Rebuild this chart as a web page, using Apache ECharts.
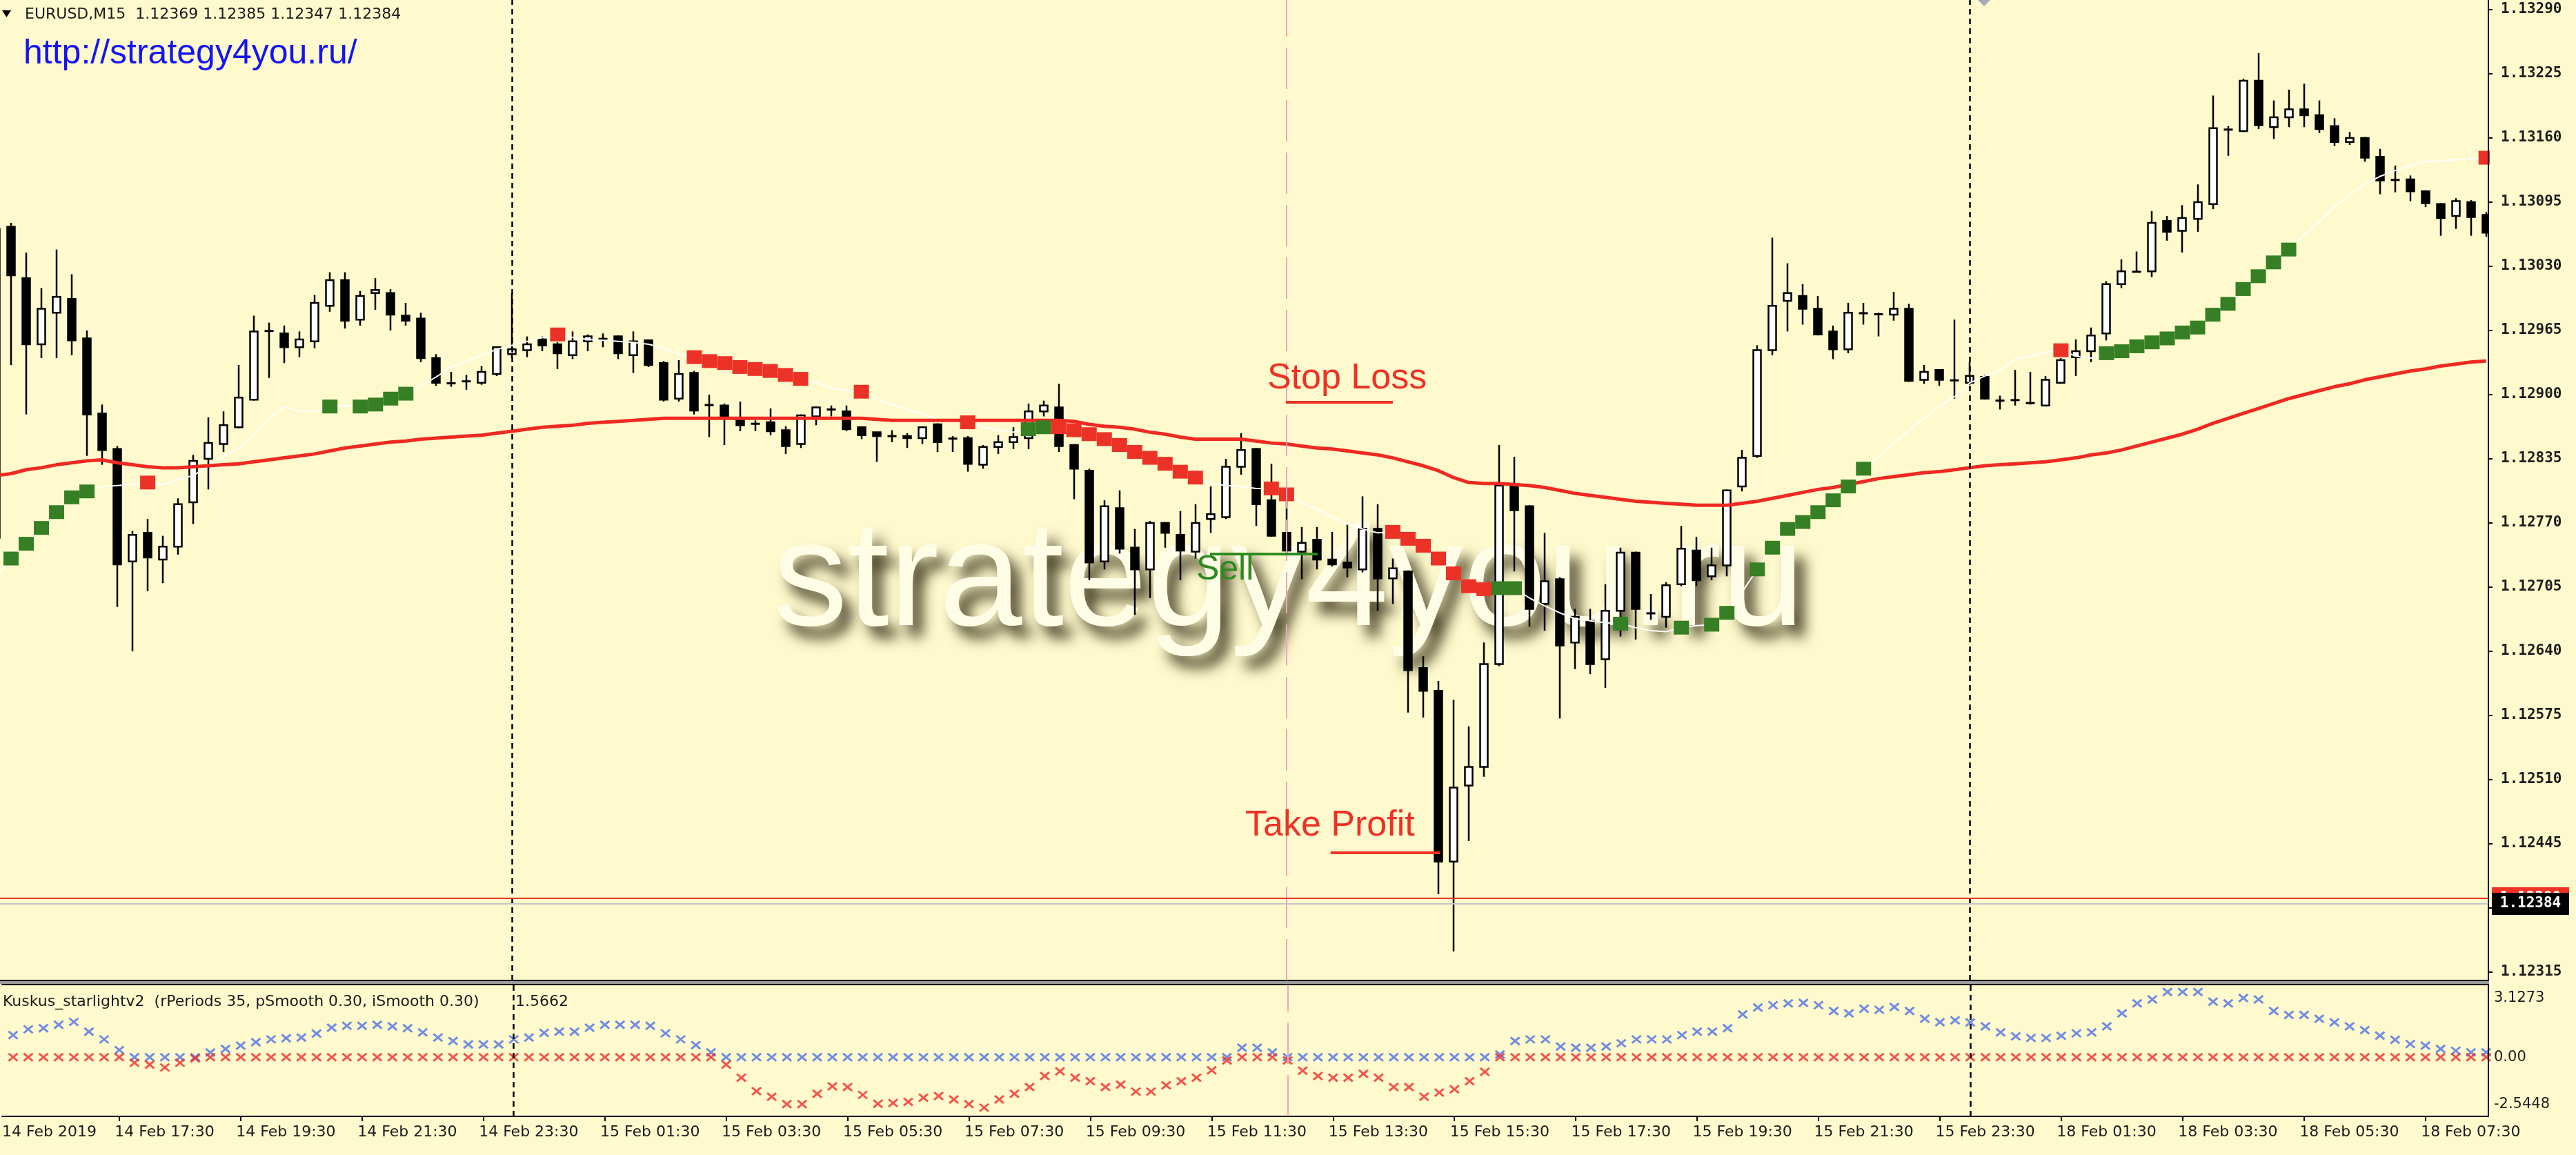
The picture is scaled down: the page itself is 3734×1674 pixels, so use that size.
<!DOCTYPE html>
<html><head><meta charset="utf-8">
<script src="https://cdn.jsdelivr.net/npm/echarts@6.0.0/dist/echarts.min.js"></script>
<style>html,body{margin:0;padding:0;background:#fffacd;}#c{width:3734px;height:1674px;}</style>
</head><body><div id="c"></div><script>
// ---------- DATA (EURUSD M15, bars indexed from 14 Feb 15:30) ----------
const opens = [
1.12755,1.13070,1.13018,1.12951,1.12983,1.12997,1.12957,1.12881,1.12845,1.12731,
1.12760,1.12733,1.12746,1.12791,1.12835,1.12850,1.12867,1.12895,1.12964,1.12962,
1.12948,1.12954,1.12990,1.13016,1.12976,1.13003,1.13003,1.12980,1.12977,1.12937,
1.12912,1.12913,1.12912,1.12921,1.12941,1.12945,1.12956,1.12951,1.12940,1.12954,
1.12956,1.12959,1.12940,1.12955,1.12932,1.12896,1.12922,1.12889,1.12889,1.12874,
1.12871,1.12872,1.12864,1.12850,1.12878,1.12885,1.12883,1.12867,1.12862,1.12858,
1.12858,1.12856,1.12870,1.12856,1.12856,1.12829,1.12847,1.12852,1.12856,1.12883,
1.12887,1.12849,1.12823,1.12731,1.12785,1.12745,1.12723,1.12770,1.12758,1.12741,
1.12774,1.12776,1.12827,1.12845,1.12793,1.12760,1.12741,1.12753,1.12733,1.12730,
1.12723,1.12764,1.12714,1.12721,1.12623,1.12600,1.12427,1.12504,1.12523,1.12627,
1.12808,1.12787,1.12688,1.12713,1.12649,1.12671,1.12632,1.12681,1.12740,1.12679,
1.12675,1.12708,1.12742,1.12716,1.12727,1.12807,1.12838,1.12945,1.12995,1.13000,
1.12987,1.12964,1.12946,1.12982,1.12982,1.12981,1.12987,1.12915,1.12925,1.12915,
1.12912,1.12918,1.12894,1.12894,1.12892,1.12889,1.12912,1.12938,1.12944,1.12962,
1.13012,1.13024,1.13025,1.13076,1.13066,1.13078,1.13093,1.13168,1.13167,1.13218,
1.13171,1.13181,1.13189,1.13183,1.13172,1.13156,1.13160,1.13141,1.13117,1.13118,
1.13106,1.13093,1.13081,1.13095,1.13082];
const highs = [
1.13072,1.13074,1.13044,1.13008,1.13047,1.13022,1.12965,1.12890,1.12848,1.12762,
1.12774,1.12757,1.12795,1.12839,1.12877,1.12883,1.12930,1.12980,1.12973,1.12970,
1.12964,1.13001,1.13024,1.13024,1.13005,1.13018,1.13007,1.12993,1.12983,1.12941,
1.12923,1.12920,1.12929,1.12949,1.13003,1.12959,1.12959,1.12953,1.12964,1.12961,
1.12962,1.12960,1.12964,1.12956,1.12934,1.12935,1.12924,1.12900,1.12891,1.12893,
1.12874,1.12886,1.12868,1.12880,1.12888,1.12889,1.12889,1.12868,1.12862,1.12864,
1.12861,1.12868,1.12871,1.12858,1.12858,1.12849,1.12859,1.12867,1.12891,1.12894,
1.12911,1.12850,1.12825,1.12793,1.12803,1.12764,1.12772,1.12771,1.12782,1.12789,
1.12807,1.12835,1.12861,1.12846,1.12830,1.12806,1.12766,1.12766,1.12761,1.12769,
1.12797,1.12789,1.12734,1.12722,1.12635,1.12610,1.12591,1.12564,1.12649,1.12849,
1.12837,1.12788,1.12760,1.12715,1.12683,1.12683,1.12708,1.12745,1.12741,1.12698,
1.12710,1.12767,1.12756,1.12745,1.12804,1.12844,1.12950,1.13059,1.13033,1.13012,
1.13000,1.12970,1.12993,1.12993,1.12983,1.13004,1.12992,1.12930,1.12925,1.12976,
1.12933,1.12920,1.12899,1.12925,1.12923,1.12919,1.12937,1.12956,1.12968,1.13015,
1.13037,1.13045,1.13086,1.13081,1.13092,1.13113,1.13203,1.13172,1.13220,1.13246,
1.13198,1.13209,1.13215,1.13198,1.13180,1.13166,1.13161,1.13149,1.13132,1.13122,
1.13107,1.13094,1.13099,1.13097,1.13085];
const lows = [
1.12750,1.12930,1.12880,1.12937,1.12937,1.12940,1.12838,1.12829,1.12685,1.12640,
1.12701,1.12709,1.12738,1.12769,1.12804,1.12842,1.12866,1.12894,1.12917,1.12932,
1.12938,1.12947,1.12984,1.12967,1.12970,1.12986,1.12965,1.12970,1.12933,1.12909,
1.12908,1.12905,1.12910,1.12919,1.12937,1.12938,1.12944,1.12926,1.12936,1.12944,
1.12948,1.12936,1.12922,1.12928,1.12893,1.12893,1.12880,1.12857,1.12849,1.12863,
1.12863,1.12859,1.12840,1.12846,1.12869,1.12878,1.12863,1.12855,1.12832,1.12852,
1.12846,1.12850,1.12842,1.12842,1.12822,1.12825,1.12840,1.12845,1.12845,1.12878,
1.12842,1.12794,1.12712,1.12723,1.12739,1.12677,1.12694,1.12745,1.12712,1.12734,
1.12760,1.12774,1.12819,1.12767,1.12756,1.12740,1.12713,1.12723,1.12726,1.12715,
1.12720,1.12681,1.12688,1.12578,1.12573,1.12394,1.12336,1.12448,1.12513,1.12625,
1.12721,1.12665,1.12661,1.12572,1.12622,1.12617,1.12603,1.12655,1.12652,1.12672,
1.12664,1.12706,1.12706,1.12712,1.12716,1.12802,1.12836,1.12940,1.12964,1.12971,
1.12960,1.12936,1.12942,1.12971,1.12959,1.12975,1.12913,1.12911,1.12909,1.12896,
1.12910,1.12895,1.12885,1.12889,1.12890,1.12888,1.12911,1.12919,1.12933,1.12955,
1.13008,1.13024,1.13019,1.13056,1.13044,1.13065,1.13088,1.13142,1.13166,1.13169,
1.13159,1.13171,1.13171,1.13165,1.13152,1.13153,1.13136,1.13103,1.13105,1.13096,
1.13090,1.13061,1.13068,1.13061,1.13060];
const closes = [
1.13068,1.13021,1.12951,1.12987,1.12999,1.12955,1.12880,1.12844,1.12728,1.12758,
1.12735,1.12746,1.12789,1.12833,1.12851,1.12869,1.12897,1.12964,1.12965,1.12948,
1.12956,1.12993,1.13016,1.12975,1.13000,1.13006,1.12981,1.12975,1.12937,1.12912,
1.12911,1.12914,1.12923,1.12948,1.12946,1.12951,1.12950,1.12942,1.12954,1.12959,
1.12957,1.12942,1.12954,1.12930,1.12895,1.12921,1.12884,1.12890,1.12878,1.12869,
1.12870,1.12863,1.12848,1.12879,1.12887,1.12885,1.12865,1.12859,1.12858,1.12858,
1.12856,1.12867,1.12852,1.12855,1.12830,1.12847,1.12852,1.12857,1.12883,1.12889,
1.12848,1.12825,1.12730,1.12787,1.12744,1.12723,1.12770,1.12760,1.12742,1.12770,
1.12779,1.12827,1.12844,1.12789,1.12757,1.12742,1.12750,1.12733,1.12728,1.12725,
1.12764,1.12714,1.12724,1.12621,1.12600,1.12427,1.12502,1.12523,1.12627,1.12808,
1.12783,1.12683,1.12711,1.12646,1.12675,1.12627,1.12681,1.12740,1.12683,1.12678,
1.12707,1.12744,1.12712,1.12727,1.12803,1.12836,1.12945,1.12990,1.13003,1.12987,
1.12961,1.12946,1.12983,1.12983,1.12981,1.12987,1.12914,1.12923,1.12915,1.12914,
1.12919,1.12896,1.12894,1.12895,1.12891,1.12915,1.12935,1.12944,1.12960,1.13012,
1.13025,1.13025,1.13074,1.13065,1.13079,1.13095,1.13170,1.13169,1.13218,1.13173,
1.13181,1.13189,1.13183,1.13169,1.13156,1.13160,1.13140,1.13117,1.13118,1.13106,
1.13094,1.13079,1.13096,1.13080,1.13064];
const maLine = [
1.12818,1.12820,1.12824,1.12826,1.12829,1.12831,1.12833,1.12834,1.12831,1.12829,
1.12827,1.12826,1.12826,1.12827,1.12828,1.12829,1.12830,1.12832,1.12834,1.12836,
1.12838,1.12840,1.12843,1.12846,1.12848,1.12850,1.12852,1.12853,1.12855,1.12856,
1.12857,1.12858,1.12859,1.12861,1.12863,1.12865,1.12867,1.12868,1.12869,1.12871,
1.12872,1.12873,1.12874,1.12875,1.12876,1.12876,1.12876,1.12876,1.12876,1.12876,
1.12876,1.12876,1.12876,1.12876,1.12876,1.12876,1.12876,1.12876,1.12875,1.12874,
1.12874,1.12874,1.12874,1.12874,1.12874,1.12874,1.12874,1.12874,1.12874,1.12874,
1.12874,1.12873,1.12870,1.12868,1.12867,1.12865,1.12862,1.12860,1.12857,1.12855,
1.12855,1.12855,1.12855,1.12853,1.12851,1.12850,1.12848,1.12846,1.12845,1.12843,
1.12841,1.12839,1.12836,1.12832,1.12828,1.12823,1.12816,1.12811,1.12810,1.12810,
1.12809,1.12808,1.12806,1.12803,1.12800,1.12798,1.12796,1.12794,1.12792,1.12791,
1.12790,1.12789,1.12788,1.12788,1.12788,1.12790,1.12792,1.12795,1.12798,1.12801,
1.12804,1.12806,1.12809,1.12812,1.12815,1.12817,1.12819,1.12821,1.12822,1.12824,
1.12826,1.12828,1.12829,1.12830,1.12831,1.12832,1.12834,1.12836,1.12839,1.12841,
1.12844,1.12848,1.12852,1.12856,1.12860,1.12865,1.12871,1.12876,1.12881,1.12886,
1.12891,1.12896,1.12900,1.12904,1.12908,1.12911,1.12915,1.12918,1.12921,1.12924,
1.12926,1.12929,1.12931,1.12933,1.12934];
const sigLine = [
1.12714,1.12734,1.12749,1.12765,1.12781,1.12796,1.12802,1.12807,1.12808,1.12809,
1.12811,1.12809,1.12814,1.12818,1.12828,1.12837,1.12846,1.12859,1.12875,1.12888,
1.12883,1.12883,1.12888,1.12889,1.12888,1.12890,1.12896,1.12901,1.12909,1.12918,
1.12928,1.12934,1.12940,1.12946,1.12950,1.12954,1.12958,1.12961,1.12958,1.12956,
1.12955,1.12954,1.12953,1.12951,1.12947,1.12941,1.12938,1.12934,1.12932,1.12928,
1.12926,1.12924,1.12920,1.12916,1.12912,1.12907,1.12904,1.12903,1.12895,1.12890,
1.12885,1.12881,1.12875,1.12874,1.12872,1.12867,1.12864,1.12862,1.12865,1.12867,
1.12867,1.12864,1.12860,1.12855,1.12849,1.12842,1.12836,1.12830,1.12822,1.12816,
1.12810,1.12808,1.12807,1.12805,1.12805,1.12799,1.12791,1.12784,1.12776,1.12769,
1.12764,1.12760,1.12761,1.12754,1.12747,1.12734,1.12719,1.12706,1.12703,1.12704,
1.12704,1.12694,1.12686,1.12679,1.12673,1.12671,1.12669,1.12668,1.12664,1.12661,
1.12660,1.12664,1.12666,1.12667,1.12679,1.12700,1.12723,1.12745,1.12764,1.12771,
1.12781,1.12793,1.12807,1.12825,1.12837,1.12851,1.12864,1.12876,1.12888,1.12898,
1.12912,1.12919,1.12925,1.12936,1.12939,1.12943,1.12945,1.12939,1.12937,1.12942,
1.12944,1.12949,1.12953,1.12957,1.12963,1.12968,1.12981,1.12992,1.13007,1.13020,
1.13034,1.13047,1.13062,1.13075,1.13090,1.13102,1.13113,1.13121,1.13127,1.13132,
1.13136,1.13137,1.13138,1.13139,1.13140];
const sigUpIdx = [0,1,2,3,4,5,6,22,24,25,26,27,68,69,99,100,107,111,113,114,116,117,118,119,120,121,122,123,
  139,140,141,142,143,144,145,146,147,148,149,150,151];
const sigDnIdx = [10,37,46,47,48,49,50,51,52,53,57,64,70,71,72,73,74,75,76,77,78,79,84,85,92,93,94,95,96,97,98,136,164];
const kusBlue = [
0.75,0.95,1.20,1.25,1.40,1.52,1.10,0.77,0.31,0,
0,0,0,0,0.20,0.36,0.50,0.65,0.77,0.82,
0.85,1.02,1.27,1.35,1.35,1.40,1.33,1.25,1.07,0.85,
0.70,0.55,0.55,0.55,0.77,0.85,1.05,1.10,1.10,1.27,
1.40,1.40,1.40,1.35,1.03,0.77,0.52,0.21,0,0,
0,0,0,0,0,0,0,0,0,0,
0,0,0,0,0,0,0,0,0,0,
0,0,0,0,0,0,0,0,0,0,
0,0,0.41,0.41,0.21,0,0,0,0,0,
0,0,0,0,0,0,0,0,0,0.12,
0.70,0.77,0.77,0.46,0.41,0.41,0.46,0.60,0.77,0.77,
0.77,0.95,1.10,1.10,1.25,1.84,2.14,2.24,2.32,2.34,
2.24,1.99,1.89,2.09,2.04,2.16,1.99,1.66,1.51,1.59,
1.50,1.33,1.07,0.90,0.83,0.83,0.92,1.03,1.07,1.33,
1.89,2.32,2.49,2.81,2.81,2.81,2.39,2.32,2.55,2.49,
1.99,1.82,1.82,1.66,1.50,1.33,1.17,0.93,0.75,0.57,
0.50,0.36,0.28,0.21,0.21];
const kusRed = [
0,0,0,0,0,0,0,0,0,-0.24,
-0.32,-0.44,-0.24,-0.05,0,0,0,0,0,0,
0,0,0,0,0,0,0,0,0,0,
0,0,0,0,0,0,0,0,0,0,
0,0,0,0,0,0,0,0,-0.32,-0.88,
-1.46,-1.70,-2.02,-2.02,-1.57,-1.25,-1.28,-1.62,-2.00,-1.97,
-1.92,-1.74,-1.67,-1.82,-2.02,-2.17,-1.82,-1.57,-1.28,-0.81,
-0.61,-0.88,-1.03,-1.28,-1.18,-1.48,-1.48,-1.21,-1.03,-0.88,
-0.56,-0.14,0,0,0,-0.14,-0.58,-0.81,-0.88,-0.88,
-0.71,-0.88,-1.28,-1.28,-1.70,-1.52,-1.38,-1.03,-0.63,0,
0,0,0,0,0,0,0,0,0,0,
0,0,0,0,0,0,0,0,0,0,
0,0,0,0,0,0,0,0,0,0,
0,0,0,0,0,0,0,0,0,0,
0,0,0,0,0,0,0,0,0,0,
0,0,0,0,0,0,0,0,0,0,
0,0,0,0,0];
const priceTicks = [1.12315,1.12380,1.12445,1.12510,1.12575,1.12640,1.12705,1.12770,1.12835,1.12900,1.12965,1.13030,1.13095,1.13160,1.13225,1.13290];
const indTicks = [-2.5448, 0, 3.1273];
const indTickText = ['-2.5448', '0.00', '3.1273'];
const timeTickIdx = [0,8,16,24,32,40,48,56,64,72,80,88,96,104,112,120,128,136,144,152,160];
const timeTickText = ['14 Feb 2019','14 Feb 17:30','14 Feb 19:30','14 Feb 21:30','14 Feb 23:30','15 Feb 01:30','15 Feb 03:30',
  '15 Feb 05:30','15 Feb 07:30','15 Feb 09:30','15 Feb 11:30','15 Feb 13:30','15 Feb 15:30','15 Feb 17:30','15 Feb 19:30',
  '15 Feb 21:30','15 Feb 23:30','18 Feb 01:30','18 Feb 03:30','18 Feb 05:30','18 Feb 07:30'];
const daySepIdx = [34, 130];
const markerIdx = 85;
const slLine = [[84.96, 1.128923], [92.0, 1.128923]];
const tpLine = [[87.9, 1.124359], [95.1, 1.124359]];
const sellLine = [[79.96, 1.127386], [87.05, 1.127386]];
const chartTexts = ['Stop Loss', 'Take Profit', 'Sell'];
const chartTextPos = [[83.73, 1.129161], [82.28, 1.124632], [79.05, 1.127225]];
const chartTextColors = ['#ee3126', '#ee3126', '#2f8a1f'];
const chartTextSizes = [52, 52, 50];
const priceLevels = [1.12390, 1.12384];          // red order line, bid line
const priceLevelLine = ['#ef3324', '#c4c4c4'];
const priceLevelBox = ['#ef3324', '#000000'];
const headerText = 'EURUSD,M15  1.12369 1.12385 1.12347 1.12384';
const indTitle = 'Kuskus_starlightv2  (rPeriods 35, pSmooth 0.30, iSmooth 0.30)';
const indValue = '1.5662';

// ---------- CHART ----------
const BG = '#fffacd';
const MAIN_MAX = 1.1329978, MAIN_MIN = 1.1230664;
const X_MIN = 0.2726, X_MAX = 164.15;   // first bar sits just left of the window edge
const LABEL_SHIFT = 0.3;                // MT4 time labels start a few pixels left of their tick
const timeLabelPos = timeTickIdx.map((t, k) => k === 0 ? X_MIN : t - LABEL_SHIFT);
const chart = echarts.init(document.getElementById('c'), null, {renderer: 'canvas'});

const candleData = opens.map((o, i) => [i, o, closes[i], lows[i], highs[i]]);
const vLines = () => daySepIdx.map(v => ({xAxis: v, lineStyle: {color: '#000', type: [8, 6], width: 2.5}}))
  .concat([{xAxis: markerIdx, lineStyle: {color: '#f2a3bb', type: [60, 16], width: 2}}]);
const xMark = 'path://M0,0L10,10M10,0L0,10';
const TXT = {textAlign: 'left', textVerticalAlign: 'middle', align: 'left', verticalAlign: 'middle'};

const option = {
  backgroundColor: BG,
  animation: false,
  grid: [
    {left: 0, right: 127, top: 0, height: 1421},
    {left: 0, right: 127, top: 1427, height: 191}
  ],
  xAxis: [
    {type: 'value', gridIndex: 0, min: X_MIN, max: X_MAX, splitLine: {show: false},
     axisLine: {show: true, onZero: false, lineStyle: {color: '#000', width: 2}},
     axisTick: {show: false}, axisLabel: {show: false}},
    {type: 'value', gridIndex: 1, min: X_MIN, max: X_MAX, splitLine: {show: false},
     axisLine: {show: true, onZero: false, lineStyle: {color: '#000', width: 2}},
     axisTick: {show: true, customValues: timeTickIdx.slice(1), length: 7, lineStyle: {color: '#000', width: 2}},
     axisLabel: {show: true, customValues: timeLabelPos, align: 'left', margin: 12,
       formatter: v => timeTickText[timeLabelPos.findIndex(p => Math.abs(p - v) < 1e-6)] || '',
       fontFamily: 'DejaVu Sans', fontSize: 22, color: '#1a1a1a'}},
    {type: 'value', gridIndex: 1, position: 'top', min: X_MIN, max: X_MAX, splitLine: {show: false},
     axisLine: {show: true, onZero: false, lineStyle: {color: '#000', width: 2}},
     axisTick: {show: false}, axisLabel: {show: false}}
  ],
  yAxis: [
    {type: 'value', gridIndex: 0, position: 'right', min: MAIN_MIN, max: MAIN_MAX, scale: true, z: 10,
     splitLine: {show: false},
     axisLine: {show: true, onZero: false, lineStyle: {color: '#000', width: 2}},
     axisTick: {show: true, customValues: priceTicks, length: 6, lineStyle: {color: '#000', width: 2}},
     axisLabel: {show: true, customValues: priceTicks, margin: 18, formatter: v => v.toFixed(5),
       fontFamily: 'DejaVu Sans Mono', fontWeight: 'bold', fontSize: 21, color: '#1c1c1c'}},
    {type: 'value', gridIndex: 1, position: 'right', min: -2.5448, max: 3.1273, z: 10,
     splitLine: {show: false},
     axisLine: {show: true, onZero: false, lineStyle: {color: '#000', width: 2}},
     axisTick: {show: false},
     axisLabel: {show: true, customValues: indTicks, margin: 8, padding: [9, 0, 7, 0],
       formatter: v => indTickText[indTicks.findIndex(t => Math.abs(t - v) < 1e-6)] || '',
       verticalAlignMaxLabel: 'top', verticalAlignMinLabel: 'bottom',
       fontFamily: 'DejaVu Sans', fontSize: 21, color: '#1c1c1c'}}
  ],
  series: [
    {
      type: 'custom', name: 'candles', xAxisIndex: 0, yAxisIndex: 0, clip: true, z: 2,
      data: candleData, encode: {x: 0, y: [1, 2, 3, 4]},
      renderItem: function (params, api) {
        const i = api.value(0), o = api.value(1), c = api.value(2), l = api.value(3), h = api.value(4);
        const pO = api.coord([i, o]), pC = api.coord([i, c]);
        const pL = api.coord([i, l]), pH = api.coord([i, h]);
        const x = Math.round(pO[0]);
        const top = Math.min(pO[1], pC[1]);
        const hgt = Math.abs(pO[1] - pC[1]);
        const bw = 11;
        const children = [{type: 'line', shape: {x1: x, y1: pH[1], x2: x, y2: pL[1]},
          style: {stroke: '#000', lineWidth: 2.5}}];
        if (hgt < 2) {
          children.push({type: 'line', shape: {x1: x - bw / 2 - 1, y1: top + hgt / 2, x2: x + bw / 2 + 1, y2: top + hgt / 2},
            style: {stroke: '#000', lineWidth: 3}});
        } else {
          children.push({type: 'rect', shape: {x: x - bw / 2, y: top, width: bw, height: hgt},
            style: {fill: c >= o ? '#ffffff' : '#000000', stroke: '#000', lineWidth: 2.5}});
        }
        return {type: 'group', children: children};
      }
    },
    {
      type: 'line', name: 'sigLine', xAxisIndex: 0, yAxisIndex: 0, z: 3,
      data: sigLine.map((v, i) => [i, v]), showSymbol: false, silent: true,
      lineStyle: {color: '#ffffff', width: 2}
    },
    {
      type: 'line', name: 'MA', xAxisIndex: 0, yAxisIndex: 0, z: 3,
      data: maLine.map((v, i) => [i, v]), showSymbol: false, silent: true,
      lineStyle: {color: '#ee2a22', width: 5},
      markLine: {symbol: ['none', 'none'], silent: true, animation: false, label: {show: false}, data: vLines()}
    },
    {
      type: 'scatter', name: 'sigUp', xAxisIndex: 0, yAxisIndex: 0, z: 4, silent: true,
      symbol: 'rect', symbolSize: [22, 20],
      data: sigUpIdx.map(i => [i, sigLine[i]]), itemStyle: {color: '#367f24', opacity: 1}
    },
    {
      type: 'scatter', name: 'sigDn', xAxisIndex: 0, yAxisIndex: 0, z: 4, silent: true,
      symbol: 'rect', symbolSize: [22, 20],
      data: sigDnIdx.map(i => [i, sigLine[i]]), itemStyle: {color: '#ec3226', opacity: 1}
    },
    {
      type: 'line', name: 'SL', xAxisIndex: 0, yAxisIndex: 0, z: 5, data: slLine,
      showSymbol: false, silent: true, lineStyle: {color: '#ee3126', width: 4}
    },
    {
      type: 'line', name: 'TP', xAxisIndex: 0, yAxisIndex: 0, z: 5, data: tpLine,
      showSymbol: false, silent: true, lineStyle: {color: '#ee3126', width: 4}
    },
    {
      type: 'line', name: 'Sell', xAxisIndex: 0, yAxisIndex: 0, z: 5, data: sellLine,
      showSymbol: false, silent: true, lineStyle: {color: '#2f8a1f', width: 4}
    },
    {
      type: 'custom', name: 'texts', xAxisIndex: 0, yAxisIndex: 0, z: 6, silent: true,
      data: chartTextPos,
      renderItem: function (params, api) {
        const p = api.coord([api.value(0), api.value(1)]);
        const k = params.dataIndex;
        return {type: 'text', x: p[0], y: p[1],
          style: Object.assign({text: chartTexts[k], fill: chartTextColors[k],
            font: chartTextSizes[k] + 'px "Liberation Sans", Arial, sans-serif'}, TXT)};
      }
    },
    {
      type: 'custom', name: 'priceLevels', xAxisIndex: 0, yAxisIndex: 0, z: 12, clip: false, silent: true,
      data: priceLevels.map(v => [X_MAX, v]),
      renderItem: function (params, api) {
        const k = params.dataIndex;
        const v = api.value(1);
        const pL = api.coord([X_MIN, v]), pR = api.coord([X_MAX, v]);
        const y = Math.round(pR[1]);
        return {type: 'group', children: [
          {type: 'line', shape: {x1: pL[0], y1: y, x2: pR[0], y2: y}, style: {stroke: priceLevelLine[k], lineWidth: 2}},
          {type: 'rect', shape: {x: pR[0] + 5, y: y - 16, width: 112, height: 32}, style: {fill: priceLevelBox[k]}},
          {type: 'text', x: pR[0] + 61, y: y, style: {text: v.toFixed(5), fill: '#ffffff',
            font: 'bold 21px "DejaVu Sans Mono"', textAlign: 'center', align: 'center',
            textVerticalAlign: 'middle', verticalAlign: 'middle'}}
        ]};
      }
    },
    {
      type: 'scatter', name: 'kusBlue', xAxisIndex: 1, yAxisIndex: 1, z: 3, silent: true,
      symbol: xMark, symbolSize: [13, 11],
      itemStyle: {color: 'rgba(0,0,0,0)', borderColor: '#4d70e6', borderWidth: 3},
      data: kusBlue.map((v, i) => [i, v]),
      markLine: {symbol: ['none', 'none'], silent: true, animation: false, label: {show: false}, data: vLines()}
    },
    {
      type: 'scatter', name: 'kusRed', xAxisIndex: 1, yAxisIndex: 1, z: 3, silent: true,
      symbol: xMark, symbolSize: [13, 11],
      itemStyle: {color: 'rgba(0,0,0,0)', borderColor: '#ee2d2d', borderWidth: 3},
      data: kusRed.map((v, i) => [i, v])
    }
  ],
  graphic: [
    {type: 'text', x: 1120, y: 846, z: -10, silent: true,
     style: Object.assign({text: 'strategy4you.ru', font: '217px "Liberation Sans", Arial, sans-serif',
       fill: '#fffde6',
       shadowColor: 'rgba(45,40,15,0.9)', shadowBlur: 20, shadowOffsetX: 14, shadowOffsetY: 17,
       textShadowColor: 'rgba(45,40,15,0.9)', textShadowBlur: 20, textShadowOffsetX: 14, textShadowOffsetY: 17}, TXT)},
    {type: 'rect', z: 5, silent: true, shape: {x: 3609, y: 0, width: 125, height: 1421}, style: {fill: BG}},
    {type: 'polygon', z: 6, silent: true, shape: {points: [[2867, 0], [2885, 0], [2876, 9]]}, style: {fill: '#a9a9bd'}},
    {type: 'polygon', silent: true, shape: {points: [[3, 15], [16, 15], [9.5, 25]]}, style: {fill: '#000'}},
    {type: 'text', x: 36, y: 21, silent: true,
     style: Object.assign({text: headerText, font: '22px "DejaVu Sans"', fill: '#1a1a1a'}, TXT)},
    {type: 'text', x: 34, y: 78, silent: true,
     style: Object.assign({text: 'http://strategy4you.ru/', font: '50px "Liberation Sans", Arial, sans-serif', fill: '#1414f5'}, TXT)},
    {type: 'rect', silent: true, shape: {x: 0, y: 1422, width: 3608, height: 4}, style: {fill: '#9c9c9c'}},
    {type: 'text', x: 4, y: 1452, silent: true,
     style: Object.assign({text: indTitle, font: '22px "DejaVu Sans"', fill: '#1a1a1a'}, TXT)},
    {type: 'text', x: 747, y: 1452, silent: true,
     style: Object.assign({text: indValue, font: '22px "DejaVu Sans"', fill: '#1a1a1a'}, TXT)}
  ]
};
chart.setOption(option);
</script></body></html>
